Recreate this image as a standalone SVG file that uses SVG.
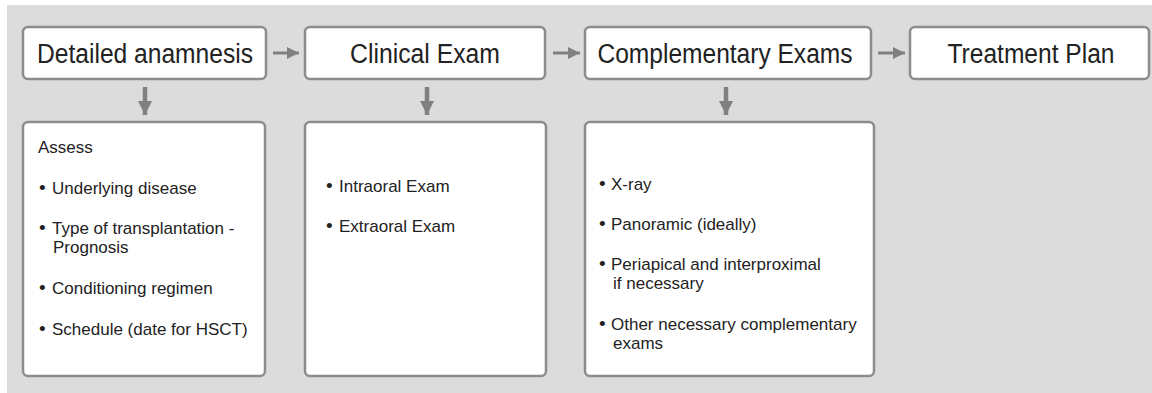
<svg xmlns="http://www.w3.org/2000/svg" width="1152" height="393" viewBox="0 0 1152 393">
<style>
.box{fill:#ffffff;stroke:#8c8c8c;stroke-width:2.5}
.title{font-family:"Liberation Sans",Arial,sans-serif;font-size:27px;fill:#222;text-anchor:middle}
.body{font-family:"Liberation Sans",Arial,sans-serif;font-size:17px;fill:#222}
.b{font-size:19px}
.conn{stroke:#808080;fill:none}
</style>
<defs>
<marker id="ah" viewBox="0 0 10 10" refX="10" refY="5" markerWidth="4" markerHeight="4" orient="auto" markerUnits="strokeWidth">
<path d="M0,0 L10,5 L0,10 z" fill="#808080"/>
</marker>
<marker id="av" viewBox="0 0 10 10" refX="10" refY="5" markerWidth="3.2" markerHeight="3.2" orient="auto" markerUnits="strokeWidth">
<path d="M0,0 L10,5 L0,10 z" fill="#808080"/>
</marker>
</defs>
<rect x="0" y="0" width="1152" height="393" fill="#ffffff"/>
<rect x="7" y="5" width="1145" height="388" fill="#dcdcdc"/>

<g id="connectors">
<line class="conn" x1="273" y1="53" x2="299" y2="53" stroke-width="3" marker-end="url(#ah)"/>
<line class="conn" x1="553" y1="53" x2="580" y2="53" stroke-width="3" marker-end="url(#ah)"/>
<line class="conn" x1="878" y1="53" x2="905" y2="53" stroke-width="3" marker-end="url(#ah)"/>
<line class="conn" x1="145" y1="87" x2="145" y2="115" stroke-width="4.5" marker-end="url(#av)"/>
<line class="conn" x1="427" y1="87" x2="427" y2="115" stroke-width="4.5" marker-end="url(#av)"/>
<line class="conn" x1="726" y1="87" x2="726" y2="115" stroke-width="4.5" marker-end="url(#av)"/>
</g>

<g id="anamnesis">
<rect class="box" x="23" y="27" width="243" height="52" rx="5"/>
<text class="title" x="145" y="63" textLength="216" lengthAdjust="spacingAndGlyphs">Detailed anamnesis</text>
</g>
<g id="clinical">
<rect class="box" x="305" y="27" width="240" height="52" rx="5"/>
<text class="title" x="425" y="63" textLength="150" lengthAdjust="spacingAndGlyphs">Clinical Exam</text>
</g>
<g id="complementary">
<rect class="box" x="585" y="27" width="286" height="52" rx="5"/>
<text class="title" x="725" y="63" textLength="255" lengthAdjust="spacingAndGlyphs">Complementary Exams</text>
</g>
<g id="treatment">
<rect class="box" x="910" y="27" width="239" height="52" rx="5"/>
<text class="title" x="1031" y="63" textLength="167" lengthAdjust="spacingAndGlyphs">Treatment Plan</text>
</g>

<g id="assess">
<rect class="box" x="23" y="122" width="242" height="254" rx="5"/>
<text class="body" x="38" y="153">Assess</text>
<text class="body" y="194"><tspan class="b" x="39">•</tspan><tspan x="52">Underlying disease</tspan></text>
<text class="body" y="234"><tspan class="b" x="39">•</tspan><tspan x="52">Type of transplantation -</tspan></text>
<text class="body" x="53" y="253">Prognosis</text>
<text class="body" y="294"><tspan class="b" x="39">•</tspan><tspan x="52">Conditioning regimen</tspan></text>
<text class="body" y="335"><tspan class="b" x="39">•</tspan><tspan x="52">Schedule (date for HSCT)</tspan></text>
</g>

<g id="exams">
<rect class="box" x="305" y="122" width="241" height="254" rx="5"/>
<text class="body" y="192"><tspan class="b" x="326">•</tspan><tspan x="339">Intraoral Exam</tspan></text>
<text class="body" y="232"><tspan class="b" x="326">•</tspan><tspan x="339">Extraoral Exam</tspan></text>
</g>

<g id="complementary-list">
<rect class="box" x="585" y="122" width="289" height="254" rx="5"/>
<text class="body" y="190"><tspan class="b" x="599">•</tspan><tspan x="611">X-ray</tspan></text>
<text class="body" y="230"><tspan class="b" x="599">•</tspan><tspan x="611">Panoramic (ideally)</tspan></text>
<text class="body" y="270"><tspan class="b" x="599">•</tspan><tspan x="611">Periapical and interproximal</tspan></text>
<text class="body" x="613" y="289">if necessary</text>
<text class="body" y="330"><tspan class="b" x="599">•</tspan><tspan x="611">Other necessary complementary</tspan></text>
<text class="body" x="613" y="349">exams</text>
</g>
</svg>
